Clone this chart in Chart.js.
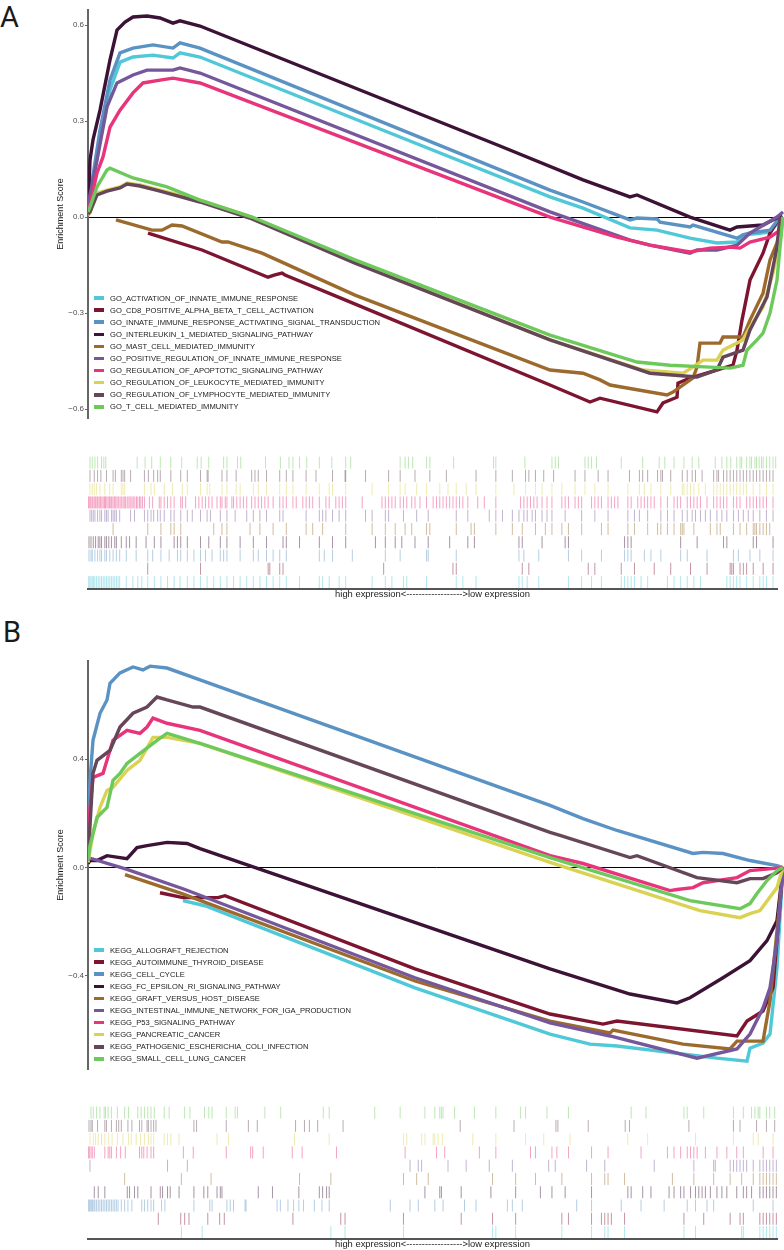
<!DOCTYPE html>
<html>
<head>
<meta charset="utf-8">
<script src="https://cdn.jsdelivr.net/npm/chart.js@4.4.1/dist/chart.umd.min.js"></script>
<style>
body { margin: 0; background: #fff; width: 784px; height: 1250px; position: relative; overflow: hidden; font-family: "Liberation Sans", Arial, sans-serif; }
canvas { position: absolute; left: 0; }
.tag { position: absolute; font-family: Roboto, "DejaVu Sans", sans-serif; font-size: 29px; line-height: 29px; color: #1a1a1a; }
.legend { position: absolute; left: 94px; font-size: 7.6px; color: #1a1a1a; }
.legend div { height: 12.1px; display: flex; align-items: center; white-space: nowrap; }
.legend span { display: inline-block; width: 10px; height: 3.5px; margin-right: 6px; }
</style>
</head>
<body>
<div class="tag" style="left:0px;top:3px">A</div>
<div class="tag" style="left:3px;top:618px">B</div>
<canvas id="linesA" width="784" height="430" style="top:0px"></canvas>
<canvas id="rugA" width="784" height="160" style="top:440px"></canvas>
<canvas id="linesB" width="784" height="430" style="top:651px"></canvas>
<canvas id="rugB" width="784" height="160" style="top:1090px"></canvas>
<div class="legend" id="legendA" style="top:292px"></div>
<div class="legend" id="legendB" style="top:944px"></div>
<script>
// gene list length (rank axis)
const rankMax = 2088;

const palette = ['#4FC8D8', '#7D1430', '#5B92C4', '#3C1237', '#9C6A2C',
    '#75589B', '#E8347A', '#D9D253', '#664659', '#6DC95B'];

const goNames = [
    'GO_ACTIVATION_OF_INNATE_IMMUNE_RESPONSE',
    'GO_CD8_POSITIVE_ALPHA_BETA_T_CELL_ACTIVATION',
    'GO_INNATE_IMMUNE_RESPONSE_ACTIVATING_SIGNAL_TRANSDUCTION',
    'GO_INTERLEUKIN_1_MEDIATED_SIGNALING_PATHWAY',
    'GO_MAST_CELL_MEDIATED_IMMUNITY',
    'GO_POSITIVE_REGULATION_OF_INNATE_IMMUNE_RESPONSE',
    'GO_REGULATION_OF_APOPTOTIC_SIGNALING_PATHWAY',
    'GO_REGULATION_OF_LEUKOCYTE_MEDIATED_IMMUNITY',
    'GO_REGULATION_OF_LYMPHOCYTE_MEDIATED_IMMUNITY',
    'GO_T_CELL_MEDIATED_IMMUNITY'
];
const keggNames = [
    'KEGG_ALLOGRAFT_REJECTION',
    'KEGG_AUTOIMMUNE_THYROID_DISEASE',
    'KEGG_CELL_CYCLE',
    'KEGG_FC_EPSILON_RI_SIGNALING_PATHWAY',
    'KEGG_GRAFT_VERSUS_HOST_DISEASE',
    'KEGG_INTESTINAL_IMMUNE_NETWORK_FOR_IGA_PRODUCTION',
    'KEGG_P53_SIGNALING_PATHWAY',
    'KEGG_PANCREATIC_CANCER',
    'KEGG_PATHOGENIC_ESCHERICHIA_COLI_INFECTION',
    'KEGG_SMALL_CELL_LUNG_CANCER'
];

// y axis ticks
const goTickValues = [-0.6, -0.3, 0, 0.3, 0.6];
const goTickLabels = ['\u22120.6', '\u22120.3', '0.0', '0.3', '0.6'];
const keggTickValues = [-0.4, 0, 0.4];
const keggTickLabels = ['\u22120.4', '0.0', '0.4'];
const goRange = [-0.628, 0.647];
const keggRange = [-0.744, 0.763];

// running enrichment score: [rank, ES]
const goActivation = [[0,0.006],[6,0.053],[36,0.241],[66,0.397],[96,0.484],[135,0.5],[195,0.506],[255,0.497],[276,0.513],[336,0.5],[636,0.375],[936,0.25],[1386,0.063],[1485,0.028],[1626,-0.034],[1707,-0.041],[1806,-0.066],[1887,-0.081],[1947,-0.078],[1965,-0.056],[2046,-0.047],[2076,-0.009],[2085,0]];
const goCd8 = [[180,-0.05],[342,-0.103],[540,-0.188],[561,-0.181],[582,-0.175],[591,-0.181],[771,-0.259],[1386,-0.525],[1506,-0.578],[1536,-0.566],[1707,-0.609],[1725,-0.581],[1767,-0.563],[1770,-0.519],[1806,-0.503],[1935,-0.463],[1947,-0.416],[1962,-0.322],[1986,-0.197],[2025,-0.113],[2046,-0.05],[2076,0]];
const goInnateSignal = [[0,0.016],[6,0.069],[36,0.272],[66,0.428],[96,0.513],[135,0.528],[195,0.538],[255,0.528],[276,0.544],[336,0.528],[1386,0.084],[1485,0.047],[1626,-0.009],[1647,-0.003],[1707,-0.006],[1716,-0.016],[1806,-0.031],[1815,-0.025],[1947,-0.066],[1965,-0.056],[1986,-0.05],[2046,-0.041],[2076,0]];
const goIl1 = [[0,0.016],[6,0.178],[15,0.241],[36,0.334],[51,0.413],[66,0.491],[87,0.584],[111,0.609],[135,0.625],[177,0.628],[216,0.622],[255,0.606],[276,0.613],[336,0.597],[636,0.472],[936,0.347],[1236,0.222],[1485,0.116],[1626,0.063],[1647,0.069],[1806,0],[1926,-0.041],[1947,-0.031],[2025,-0.025],[2082,0.006]];
const goMast = [[84,-0.009],[192,-0.041],[222,-0.041],[252,-0.025],[282,-0.028],[402,-0.078],[420,-0.078],[522,-0.113],[801,-0.244],[1386,-0.478],[1485,-0.488],[1536,-0.509],[1566,-0.525],[1737,-0.556],[1755,-0.547],[1815,-0.503],[1827,-0.469],[1836,-0.394],[1896,-0.394],[1905,-0.375],[1965,-0.375],[1986,-0.322],[2025,-0.238],[2046,-0.134],[2067,-0.081],[2085,0]];
const goPosInnate = [[0,0.022],[6,0.069],[27,0.178],[57,0.344],[87,0.419],[135,0.444],[177,0.459],[255,0.459],[276,0.466],[336,0.45],[1386,0.016],[1626,-0.072],[1686,-0.088],[1806,-0.113],[1827,-0.103],[1887,-0.103],[1947,-0.088],[1986,-0.05],[2067,0],[2085,0.016]];
const goApoptotic = [[0,0.013],[6,0.038],[27,0.138],[45,0.188],[66,0.281],[96,0.334],[135,0.388],[165,0.419],[216,0.428],[255,0.434],[336,0.419],[1386,0],[1587,-0.063],[1686,-0.088],[1806,-0.109],[1866,-0.097],[1926,-0.094],[1956,-0.097],[1986,-0.078],[2046,-0.063],[2076,-0.041],[2085,0]];
const goLeukocyte = [[0,0.006],[6,0.013],[27,0.075],[57,0.084],[96,0.094],[117,0.106],[156,0.1],[216,0.084],[336,0.053],[492,0],[801,-0.141],[1386,-0.384],[1665,-0.478],[1785,-0.488],[1815,-0.469],[1845,-0.447],[1887,-0.447],[1905,-0.416],[1965,-0.384],[1986,-0.344],[2025,-0.281],[2055,-0.175],[2076,-0.072],[2085,0]];
const goLymphocyte = [[0,0.009],[6,0.016],[27,0.069],[57,0.081],[96,0.091],[117,0.103],[156,0.097],[216,0.081],[336,0.047],[492,-0.006],[801,-0.144],[1386,-0.384],[1686,-0.488],[1827,-0.5],[1887,-0.478],[1905,-0.438],[1965,-0.416],[1986,-0.353],[2037,-0.25],[2067,-0.094],[2076,0]];
const goTCell = [[0,0.016],[6,0.031],[27,0.094],[57,0.147],[66,0.153],[135,0.122],[237,0.094],[336,0.053],[492,0],[801,-0.134],[1386,-0.369],[1647,-0.453],[1746,-0.463],[1866,-0.469],[1926,-0.472],[1965,-0.463],[1977,-0.416],[2007,-0.384],[2025,-0.363],[2046,-0.3],[2067,-0.197],[2076,-0.094],[2085,0]];

const keggAllograft = [[285,-0.122],[351,-0.141],[981,-0.444],[1386,-0.615],[1506,-0.652],[1587,-0.659],[1887,-0.704],[1977,-0.715],[1986,-0.667],[2025,-0.648],[2046,-0.615],[2067,-0.37],[2085,0]];
const keggThyroid = [[216,-0.093],[285,-0.111],[390,-0.111],[411,-0.104],[981,-0.374],[1386,-0.541],[1545,-0.578],[1587,-0.567],[1947,-0.622],[1977,-0.567],[2025,-0.53],[2055,-0.444],[2085,0]];
const keggCellCycle = [[0,0.119],[6,0.322],[15,0.47],[36,0.57],[57,0.619],[66,0.681],[96,0.719],[135,0.741],[165,0.73],[186,0.744],[237,0.737],[336,0.693],[1386,0.23],[1485,0.181],[1587,0.137],[1815,0.052],[1845,0.056],[1905,0.052],[1986,0.026],[2067,0.007],[2085,0]];
const keggFcEpsilon = [[0,0.015],[6,0.026],[27,0.026],[57,0.044],[117,0.033],[147,0.074],[177,0.081],[237,0.093],[297,0.089],[336,0.07],[1386,-0.374],[1626,-0.467],[1767,-0.5],[1806,-0.481],[1905,-0.407],[1986,-0.344],[2037,-0.27],[2067,-0.196],[2085,0]];
const keggGraft = [[111,-0.026],[282,-0.096],[981,-0.419],[1386,-0.567],[1566,-0.611],[1575,-0.6],[1785,-0.652],[1926,-0.67],[1947,-0.641],[2025,-0.641],[2046,-0.493],[2076,-0.122],[2085,0]];
const keggIga = [[0,0.037],[117,-0.007],[291,-0.081],[981,-0.407],[1386,-0.574],[1566,-0.622],[1827,-0.704],[1947,-0.67],[1986,-0.615],[2025,-0.519],[2046,-0.444],[2067,-0.27],[2085,0]];
const keggP53 = [[0,0.063],[6,0.222],[15,0.333],[45,0.348],[57,0.396],[75,0.47],[117,0.507],[156,0.496],[177,0.519],[195,0.552],[237,0.533],[336,0.507],[1386,0.044],[1485,0.015],[1746,-0.085],[1767,-0.081],[1815,-0.074],[1845,-0.056],[1947,-0.037],[1986,-0.011],[2085,0]];
const keggPancreatic = [[0,0.019],[15,0.126],[36,0.222],[57,0.285],[75,0.296],[117,0.359],[156,0.396],[195,0.481],[237,0.481],[336,0.459],[1386,0.019],[1836,-0.159],[1956,-0.185],[1986,-0.17],[2016,-0.159],[2067,-0.074],[2085,0]];
const keggEcoli = [[0,0.026],[15,0.348],[27,0.396],[66,0.433],[96,0.519],[135,0.57],[177,0.593],[207,0.63],[237,0.619],[315,0.593],[336,0.593],[1386,0.13],[1416,0.119],[1626,0.037],[1647,0.044],[1827,-0.037],[1947,-0.056],[1986,-0.041],[2025,-0.041],[2067,-0.019],[2085,0]];
const keggLung = [[0,0.026],[6,0.081],[27,0.185],[57,0.222],[75,0.322],[96,0.348],[117,0.385],[156,0.422],[207,0.47],[237,0.496],[255,0.489],[336,0.459],[1386,0.037],[1806,-0.122],[1956,-0.152],[1986,-0.133],[2007,-0.096],[2037,-0.048],[2067,-0.011],[2085,0]];

// gene set hits: rank positions
const goActivationHits = [1,5,9,13,17,21,26,31,36,41,46,51,56,61,66,71,76,81,86,91,96,116,136,151,163,181,201,221,241,261,279,301,321,341,361,381,401,421,441,461,481,501,521,541,561,581,601,641,701,711,731,761,781,861,901,921,956,966,1026,1116,1136,1176,1306,1316,1331,1366,1456,1496,1526,1556,1616,1626,1636,1646,1656,1676,1696,1756,1776,1796,1816,1836,1856,1936,1946,1956,1966,1976,1996,2016,2036,2046,2056,2076];
const goCd8Hits = [181,341,546,551,581,591,896,1106,1116,1316,1336,1516,1536,1616,1656,1716,1766,1826,1876,1946,1951,1956,1976,1986,1996,2016,2046,2076];
const goInnateSignalHits = [3,9,13,21,29,36,41,51,56,66,76,86,96,116,146,181,196,221,246,271,281,301,321,341,356,376,401,411,421,461,501,516,541,561,581,601,701,716,741,801,901,946,1026,1031,1116,1306,1321,1366,1456,1496,1556,1626,1636,1646,1686,1706,1736,1796,1816,1876,1956,1971,2006,2036,2076];
const goIl1Hits = [3,9,16,23,31,36,41,51,56,63,71,81,86,101,116,126,146,176,201,221,261,271,281,301,341,366,401,421,461,501,541,591,601,641,701,741,781,871,901,931,951,991,1031,1096,1151,1171,1306,1316,1376,1446,1456,1626,1636,1646,1796,1846,1926,1936,2016,2026,2076];
const goMastHits = [76,181,221,251,261,281,381,406,421,491,521,561,601,661,681,711,781,861,901,931,961,981,1026,1036,1116,1161,1171,1236,1286,1316,1356,1386,1406,1436,1456,1496,1556,1576,1636,1656,1696,1726,1736,1756,1776,1796,1801,1806,1836,1886,1906,1916,1956,1976,1996,2016,2021,2026,2036,2046,2056,2066];
const goPosInnateHits = [6,11,16,21,29,36,41,51,56,61,71,76,81,86,96,129,141,171,181,191,199,211,219,231,251,261,281,301,316,341,361,371,401,421,446,481,501,521,541,581,591,661,701,711,721,741,761,781,841,861,901,911,956,996,1031,1116,1151,1216,1236,1256,1286,1306,1321,1331,1346,1356,1376,1391,1406,1446,1496,1536,1576,1636,1656,1671,1696,1736,1756,1776,1801,1816,1831,1841,1856,1871,1886,1906,1921,1936,1956,1971,1986,2001,2016,2036,2056,2076];
const goApoptoticHits = [1,4,8,12,15,19,23,27,30,34,38,42,46,50,53,57,61,65,69,72,76,80,84,88,92,97,101,106,110,114,119,124,128,133,137,142,147,151,156,160,165,171,186,196,216,221,231,241,251,261,281,286,296,326,336,346,356,366,376,391,401,406,416,421,436,441,451,461,471,481,496,506,516,526,536,546,561,581,591,601,621,631,651,661,671,681,701,721,731,751,761,771,781,831,891,901,911,921,931,946,956,966,981,991,1006,1026,1046,1056,1066,1076,1086,1096,1106,1116,1126,1136,1151,1181,1201,1236,1311,1321,1331,1341,1351,1361,1376,1391,1406,1436,1446,1456,1476,1486,1496,1526,1536,1546,1556,1576,1586,1596,1606,1636,1646,1666,1676,1686,1696,1706,1716,1736,1756,1776,1786,1796,1816,1826,1836,1846,1856,1876,1896,1906,1916,1926,1936,1956,1966,1976,1996,2006,2016,2026,2036,2046,2056,2076];
const goLeukocyteHits = [6,13,19,26,36,51,66,76,101,106,111,171,191,201,231,256,286,301,341,361,369,406,421,449,461,501,516,541,581,601,621,661,701,731,741,781,861,911,946,961,996,1026,1066,1091,1116,1146,1176,1236,1291,1326,1356,1376,1406,1436,1476,1506,1536,1576,1636,1671,1686,1706,1736,1766,1801,1806,1816,1826,1836,1851,1871,1896,1906,1916,1926,1936,1946,1956,1966,1976,1986,1996,2016,2036,2056,2076];
const goLymphocyteHits = [6,19,29,39,56,76,83,101,106,111,129,171,183,199,211,219,251,281,301,341,361,364,406,421,449,496,506,516,541,581,601,621,661,691,741,779,781,841,911,946,991,1036,1086,1176,1236,1286,1326,1336,1356,1381,1411,1476,1506,1546,1576,1641,1671,1681,1696,1726,1736,1741,1766,1801,1816,1831,1841,1861,1896,1906,1911,1926,1936,1946,1956,1966,1976,1986,1996,2006,2016,2026,2036,2046,2056,2066,2076];
const goTCellHits = [6,13,21,29,41,48,54,149,173,193,219,251,284,331,343,366,411,421,453,463,538,583,609,621,641,663,701,739,781,796,946,961,971,984,1026,1036,1108,1229,1236,1324,1406,1416,1426,1506,1516,1526,1541,1616,1681,1731,1748,1776,1806,1831,1851,1901,1921,1936,1948,1966,1976,1981,1996,2006,2011,2021,2026,2034,2041,2046,2056,2066,2076,2084];

const keggAllograftHits = [283,346,736,779,956,1226,1236,1296,1436,1526,1566,1576,1626,1806,1841,1981,1986,2036,2046,2056,2066,2076,2086];
const keggThyroidHits = [213,281,293,306,363,399,413,621,766,779,956,1131,1226,1296,1436,1456,1526,1556,1566,1576,1586,1626,1806,1866,1946,1976,1986,2036,2046,2056,2066,2076,2086];
const keggCellCycleHits = [1,4,7,11,14,18,21,26,31,36,41,46,51,56,61,66,71,76,81,86,91,101,111,121,133,163,171,181,191,199,223,233,321,369,376,421,431,441,476,479,573,583,606,623,639,653,686,709,731,916,976,1001,1051,1076,1141,1176,1271,1286,1316,1481,1526,1616,1676,1746,1816,1841,1876,1896,2016,2076];
const keggFcEpsilonHits = [19,31,51,119,126,141,151,191,219,226,241,249,276,321,351,363,391,401,406,516,559,639,701,711,723,731,1021,1066,1071,1131,1221,1296,1371,1406,1446,1526,1636,1646,1681,1706,1761,1776,1796,1806,1826,1841,1851,1861,1871,1886,1906,1921,1936,1966,1986,1996,2011,2036,2046,2056,2066,2076,2086];
const keggGraftHits = [111,283,373,641,736,956,996,1031,1226,1296,1356,1436,1526,1566,1576,1626,1771,1836,1896,1946,1981,2016,2036,2046,2056,2066,2076,2086];
const keggIgaHits = [6,241,301,976,1001,1011,1091,1146,1216,1286,1396,1416,1511,1566,1716,1836,1896,1901,1946,1956,1966,1976,1986,1996,2016,2036,2046,2056,2066,2076,2086];
const keggP53Hits = [1,4,9,13,19,51,61,66,71,86,99,113,156,163,169,179,191,199,289,319,419,493,499,531,619,649,753,961,1056,1081,1186,1236,1341,1356,1406,1421,1456,1526,1576,1676,1756,1776,1796,1816,1826,1836,1846,1871,1906,1936,1966,1986,2046,2076];
const keggPancreaticHits = [6,16,23,31,41,51,63,73,89,106,123,131,146,159,171,183,191,199,231,241,251,276,391,426,626,731,956,966,1011,1021,1046,1051,1061,1074,1166,1236,1326,1381,1461,1636,1696,1841,1956,2016,2031,2076];
const keggEcoliHits = [3,9,13,29,51,56,71,86,93,101,121,133,156,163,179,183,191,199,206,321,329,419,486,513,629,656,671,696,773,1128,1291,1418,1424,1516,1628,1641,1821,1956,1976,2026,2056,2081];
const keggLungHits = [9,16,26,36,49,53,61,71,89,111,123,151,161,171,181,191,201,231,246,293,309,353,366,376,419,446,453,536,584,713,731,869,946,1021,1051,1066,1071,1076,1111,1171,1236,1311,1326,1391,1456,1646,1691,1806,1816,1866,1956,1986,2011,2021,2031,2036,2056,2066,2081];

const goCurves = [goActivation, goCd8, goInnateSignal, goIl1, goMast, goPosInnate, goApoptotic, goLeukocyte, goLymphocyte, goTCell];
const keggCurves = [keggAllograft, keggThyroid, keggCellCycle, keggFcEpsilon, keggGraft, keggIga, keggP53, keggPancreatic, keggEcoli, keggLung];
const goHits = [goActivationHits, goCd8Hits, goInnateSignalHits, goIl1Hits, goMastHits, goPosInnateHits, goApoptoticHits, goLeukocyteHits, goLymphocyteHits, goTCellHits];
const keggHits = [keggAllograftHits, keggThyroidHits, keggCellCycleHits, keggFcEpsilonHits, keggGraftHits, keggIgaHits, keggP53Hits, keggPancreaticHits, keggEcoliHits, keggLungHits];

const rankLabel = 'high expression<------------------>low expression';

Chart.defaults.font.family = '"Liberation Sans", Arial, sans-serif';

function withAlpha(hex, a) {
    const n = parseInt(hex.slice(1), 16);
    return 'rgba(' + (n >> 16) + ',' + ((n >> 8) & 255) + ',' + (n & 255) + ',' + a + ')';
}

// ES curves panel
function drawLines(id, curves, range, tickValues, tickLabels) {
    new Chart(document.getElementById(id), {
        type: 'line',
        data: {
            datasets: curves.map((c, i) => ({
                data: c.map(p => ({ x: p[0], y: p[1] })),
                borderColor: palette[i],
                borderWidth: 3.4,
                pointRadius: 0,
                tension: 0,
                fill: false,
                order: 9 - i
            }))
        },
        options: {
            responsive: false,
            animation: false,
            layout: { padding: { top: 10, bottom: 12, left: 0, right: 0 } },
            plugins: { legend: { display: false }, tooltip: { enabled: false } },
            scales: {
                x: { type: 'linear', min: 0, max: rankMax, display: false },
                y: {
                    min: range[0],
                    max: range[1],
                    afterFit: s => { s.width = 88; },
                    afterBuildTicks: s => { s.ticks = tickValues.map(v => ({ value: v })); },
                    ticks: {
                        padding: 1,
                        color: '#4d4d4d',
                        font: { size: 8 },
                        callback: v => tickLabels[tickValues.indexOf(v)]
                    },
                    grid: {
                        color: c => (c.tick && c.tick.value === 0 ? '#000' : 'rgba(0,0,0,0)'),
                        tickColor: '#666',
                        tickLength: 3,
                        lineWidth: 1
                    },
                    border: { display: true, color: '#666', width: 2 },
                    title: {
                        display: true,
                        text: 'Enrichment Score',
                        color: '#1a1a1a',
                        font: { size: 9 },
                        padding: { top: 55.6, bottom: 0 }
                    }
                }
            }
        }
    });
}

// hit positions, one row per gene set
function drawRug(id, hits) {
    new Chart(document.getElementById(id), {
        type: 'scatter',
        data: {
            datasets: hits.map((h, i) => ({
                data: h.map(r => ({ x: r, y: i + 0.5 })),
                pointStyle: 'line',
                rotation: 90,
                pointRadius: 6,
                pointBorderWidth: 1,
                pointBorderColor: withAlpha(palette[i], 0.45),
                pointBackgroundColor: withAlpha(palette[i], 0.45)
            }))
        },
        options: {
            responsive: false,
            animation: false,
            layout: { padding: { top: 16, bottom: 0, left: 88, right: 0 } },
            plugins: { legend: { display: false }, tooltip: { enabled: false } },
            scales: {
                y: { min: 0, max: 10, display: false },
                x: {
                    type: 'linear',
                    min: 0,
                    max: rankMax,
                    ticks: { display: false },
                    grid: { display: false, drawTicks: false },
                    border: { display: true, color: '#555', width: 2 },
                    title: {
                        display: true,
                        text: rankLabel,
                        color: '#1a1a1a',
                        font: { size: 9.4 },
                        padding: { top: 0, bottom: 0 }
                    }
                }
            }
        }
    });
}

function buildLegend(id, names) {
    const box = document.getElementById(id);
    names.forEach((n, i) => {
        const row = document.createElement('div');
        const key = document.createElement('span');
        key.style.background = palette[i];
        row.appendChild(key);
        row.appendChild(document.createTextNode(n));
        box.appendChild(row);
    });
}

drawLines('linesA', goCurves, goRange, goTickValues, goTickLabels);
drawRug('rugA', goHits);
drawLines('linesB', keggCurves, keggRange, keggTickValues, keggTickLabels);
drawRug('rugB', keggHits);
buildLegend('legendA', goNames);
buildLegend('legendB', keggNames);
</script>
</body>
</html>
